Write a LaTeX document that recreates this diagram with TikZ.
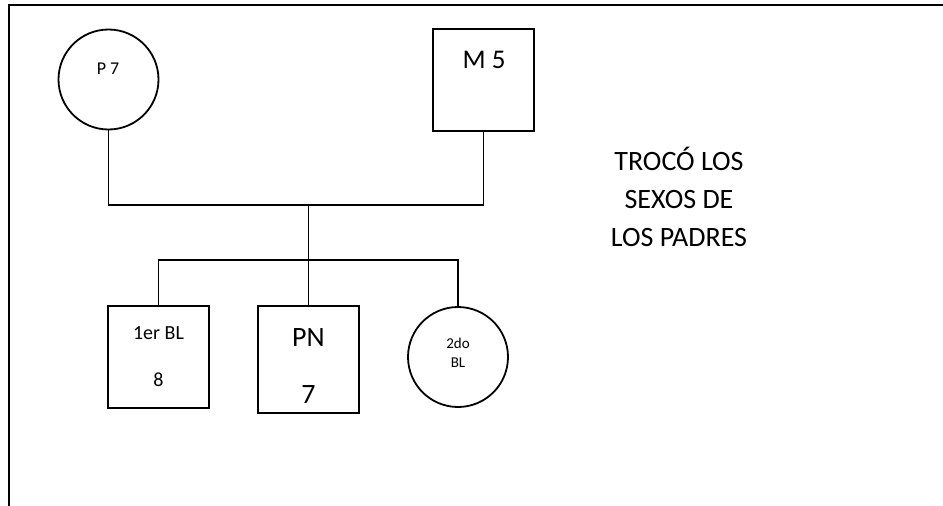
\documentclass[tikz,border=0pt]{standalone}
\usepackage{fontspec}
\setmainfont{Carlito}
\tikzset{
  fem/.style={draw, circle, line width=1.8pt, minimum size=100pt, inner sep=0pt},
  masc/.style={draw, rectangle, line width=1.8pt, minimum width=101pt, minimum height=102pt, inner sep=0pt},
  lnk/.style={line width=1.4pt},
  txt/.style={inner sep=0pt, font=\fontsize{#1}{#1}\selectfont},
}
\begin{document}
\begin{tikzpicture}[x=1pt,y=-1pt]
    \useasboundingbox (0,0) rectangle (943,506);
    % frame
    \draw[line width=2.2pt] (943,5) -- (9,5) -- (9,506);
    % parents
    \node[fem] (p) at (108.5,79.5) {};
    \node[masc] (m) at (483.5,80) {};
    % children
    \node[masc] (bl1) at (158.5,357) {};
    \node[masc, minimum height=107pt] (pn) at (308.5,359.5) {};
    \node[fem] (bl2) at (458,357) {};
    % links
    \coordinate (upbar) at (308.5,205);
    \coordinate (kidbar) at (308.5,260);
    \draw[lnk] (p.south) -- (p.south |- upbar) -- (m.south |- upbar) -- (m.south);
    \draw[lnk] (upbar) -- (kidbar);
    \draw[lnk] (bl1.north) -- (bl1.north |- kidbar) -- (bl2.north |- kidbar) -- (bl2.north);
    \draw[lnk] (kidbar) -- (pn.north);
    % labels
    \node[txt=18] (ptxt) at (108,69) {P 7};
    \node[txt=27] (mtxt) at (484,60) {M 5};
    \node[txt=20] (bl1txt) at (158.5,333) {1er BL};
    \node[txt=20] (bl1num) at (158.5,380) {8};
    \node[txt=28] (pntxt) at (308.5,338) {PN};
    \node[txt=28] (pnnum) at (308.5,395) {7};
    \node[txt=15] (bl2txt) at (458,343) {2do};
    \node[txt=15] (bl2sub) at (458,363) {BL};
    % note
    \node[txt=28, anchor=base] (note1) at (679,170) {TROCÓ LOS};
    \node[txt=28, anchor=base] (note2) at (679,208) {SEXOS DE};
    \node[txt=28, anchor=base] (note3) at (679,246) {LOS PADRES};
\end{tikzpicture}
\end{document}
